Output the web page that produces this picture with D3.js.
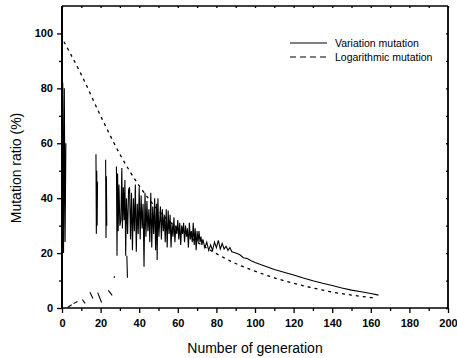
<!DOCTYPE html>
<html lang="en">
<head>
    <meta charset="utf-8">
    <title>Mutation ratio</title>
    <script src="https://d3js.org/d3.v7.min.js"></script>
    <style>
        body { margin: 0; background: #fff; }
        text { font-family: "Liberation Sans", Arial, sans-serif; fill: #000; }
    </style>
</head>
<body>
<svg width="457" height="358"></svg>
<script>
    // axis ticks
    var xTicks = [0, 20, 40, 60, 80, 100, 120, 140, 160, 180, 200];
    var xMinor = [10, 30, 50, 70, 90, 110, 130, 150, 170, 190];
    var yTicks = [0, 20, 40, 60, 80, 100];
    var yMinor = [10, 30, 50, 70, 90];

    // logarithmic mutation (dashed)
    var logGen   = [1, 10, 20, 30, 40, 50, 60, 70, 80, 90, 100, 110, 120, 130, 140, 150, 160, 162];
    var logRatio = [97, 85, 70, 56, 44.5, 35.5, 29, 24, 19.8, 16.2, 13.4, 11, 9, 7.3, 5.8, 4.7, 3.8, 3.6];

    // variation mutation (solid), null = gap where the trace is broken in the scan
    var varGen = [
        0, 0.4, 0.8, 1.2, 1.6, 2.0, null,
        3, 5, null, 6, 8, null, 10.5, 12, null, 14.5, 16, null, 18.5, 20.5, null, 24, 26, null, 27, 27.2, null,
        17.6, 17.8, 18.0, 18.2, 18.4, null,
        22.6, 22.8, 23.0, 23.2, null,
        33.6, 33.9, null,
        28.2, 28.5, 28.8, 29.1, 29.5, 30.0, 30.5, 31.0, 31.3, 31.8, 32.2, 32.6, 33.0, 33.4, 34.0, 34.5,
        35, 35.5, 36, 36.5, 37, 37.5, 38, 38.5, 39, 39.5, 40, 40.5, 41, 41.5, 42, 42.5, 43, 43.5, 44, 44.5,
        45, 45.5, 46, 46.5, 47, 47.5, 48, 48.5, 49, 49.3, 49.7, 50.2, 51, 51.5, 52, 52.5, 53, 53.5, 54, 54.5,
        55, 55.5, 56, 56.5, 57, 57.5, 58, 58.5, 59, 59.5, 60, 60.5, 61, 61.5, 62, 62.5, 63, 63.5, 64, 64.5,
        65, 65.5, 66, 66.5, 67, 67.5, 68, 68.5, 69, 69.5, 70, 70.5, 71, 71.5, 72, 72.5, 73, 74, 75, 76,
        77, 78, 79, 80, 81, 82, 83, 84, 85, 86, 87, 88, 90, 92, 94, 96, 98, 100,
        105, 110, 115, 120, 125, 130, 135, 140, 145, 150, 155, 160, 164
    ];
    var varRatio = [
        0, 82, 20, 80, 24, 60, null,
        0.3, 1.2, null, 1.6, 2.4, null, 3.1, 1.7, null, 5.7, 3.5, null, 5.6, 2, null, 6.4, 4.6, null, 11, 11.6, null,
        56, 27, 50, 30, 46, null,
        54, 25.5, 48, 30, null,
        19, 11, null,
        51.5, 19, 49, 28, 45, 30, 32, 51, 29, 44, 32, 46.6, 19, 40, 27, 43,
        44, 25, 42, 21, 40, 28, 45, 20.5, 38, 27, 44, 25, 41, 29, 38, 15, 42, 26, 39, 28,
        36, 24, 42, 22, 37, 27, 40, 21, 38, 17.5, 40, 26, 37, 25, 36, 28, 34, 24, 36, 22,
        35.5, 27, 34, 22, 31, 26, 33, 24, 30, 27, 32, 25, 31, 23, 30, 27, 31, 24, 30, 26,
        29, 22, 31, 25, 28, 24, 31, 23, 29, 21, 28, 24, 28, 24, 26, 23, 25, 22, 24, 21,
        23, 21, 24, 22, 24.6, 21.5, 23.5, 21.5, 22.5, 21, 22, 20.5, 20, 19.5, 18.3, 18, 17.2, 16.6,
        15.3, 14, 13, 12, 10.9, 9.9, 9, 8.2, 7.3, 6.5, 5.9, 5.3, 4.7
    ];

    var svg = d3.select("svg");
    var marge = {left: 62, right: 448, top: 6, bottom: 308};

    var x = d3.scaleLinear().domain([0, 200]).range([marge.left, marge.right]);
    var y = d3.scaleLinear().domain([0, 110]).range([marge.bottom, marge.top]);

    // major / minor ticks, outward on the bottom and left
    function styleAxis(g) {
        g.select(".domain").remove();
        g.selectAll(".tick line").attr("stroke", "#000").attr("stroke-width", 1.3);
        g.selectAll(".tick text").style("font-size", "11px").style("font-weight", "bold");
    }

    svg.append("g")
        .attr("transform", "translate(0," + marge.bottom + ")")
        .call(d3.axisBottom(x).tickValues(xTicks).tickSize(5).tickPadding(6).tickFormat(d3.format("d")))
        .call(styleAxis);
    svg.append("g")
        .attr("transform", "translate(0," + marge.bottom + ")")
        .call(d3.axisBottom(x).tickValues(xMinor).tickSize(3).tickFormat(""))
        .call(styleAxis);
    svg.append("g")
        .attr("transform", "translate(" + marge.left + ",0)")
        .call(d3.axisLeft(y).tickValues(yTicks).tickSize(5).tickPadding(4).tickFormat(d3.format("d")))
        .call(styleAxis);
    svg.append("g")
        .attr("transform", "translate(" + marge.left + ",0)")
        .call(d3.axisLeft(y).tickValues(yMinor).tickSize(3).tickFormat(""))
        .call(styleAxis);

    // small inward ticks on top and right
    svg.append("g")
        .attr("transform", "translate(0," + marge.top + ")")
        .call(d3.axisBottom(x).tickValues(xTicks.concat(xMinor)).tickSize(2).tickFormat(""))
        .call(styleAxis);
    svg.append("g")
        .attr("transform", "translate(" + marge.right + ",0)")
        .call(d3.axisLeft(y).tickValues(yTicks.concat(yMinor)).tickSize(2).tickFormat(""))
        .call(styleAxis);

    // frame
    svg.append("line").attr("x1", marge.left).attr("x2", marge.right).attr("y1", marge.top).attr("y2", marge.top)
        .attr("stroke", "#000").attr("stroke-width", 1.5);
    svg.append("line").attr("x1", marge.left).attr("x2", marge.right).attr("y1", marge.bottom).attr("y2", marge.bottom)
        .attr("stroke", "#000").attr("stroke-width", 1.6);
    svg.append("line").attr("x1", marge.left).attr("x2", marge.left).attr("y1", marge.top).attr("y2", marge.bottom)
        .attr("stroke", "#000").attr("stroke-width", 2);
    svg.append("line").attr("x1", marge.right).attr("x2", marge.right).attr("y1", marge.top).attr("y2", marge.bottom)
        .attr("stroke", "#000").attr("stroke-width", 1.8);

    // lines
    var line = d3.line()
        .defined(function(d) { return d[0] !== null && d[1] !== null; })
        .x(function(d) { return x(d[0]); })
        .y(function(d) { return y(d[1]); });

    var logData = logGen.map(function(g, i) { return [g, logRatio[i]]; });
    var varData = varGen.map(function(g, i) { return [g, varRatio[i]]; });

    svg.append("path")
        .datum(logData)
        .attr("d", d3.line().curve(d3.curveMonotoneX).x(function(d) { return x(d[0]); }).y(function(d) { return y(d[1]); }))
        .attr("fill", "none")
        .attr("stroke", "#000")
        .attr("stroke-width", 1.3)
        .attr("stroke-dasharray", "3,4");

    svg.append("path")
        .datum(varData)
        .attr("d", line)
        .attr("fill", "none")
        .attr("stroke", "#000")
        .attr("stroke-width", 1.1);

    // legend
    var legend = svg.append("g");
    legend.append("line").attr("x1", 290).attr("x2", 327).attr("y1", 43).attr("y2", 43)
        .attr("stroke", "#000").attr("stroke-width", 1.2);
    legend.append("text").attr("x", 335).attr("y", 47).style("font-size", "10.5px").text("Variation mutation");
    legend.append("line").attr("x1", 290).attr("x2", 327).attr("y1", 57).attr("y2", 57)
        .attr("stroke", "#000").attr("stroke-width", 1.2).attr("stroke-dasharray", "6,4");
    legend.append("text").attr("x", 335).attr("y", 61).style("font-size", "10.5px").text("Logarithmic mutation");

    // axis titles
    svg.append("text")
        .attr("x", (marge.left + marge.right) / 2)
        .attr("y", 353)
        .attr("text-anchor", "middle")
        .style("font-size", "14px")
        .text("Number of generation");
    svg.append("text")
        .attr("transform", "translate(21,168) rotate(-90)")
        .attr("text-anchor", "middle")
        .style("font-size", "14px")
        .text("Mutation ratio (%)");
</script>
</body>
</html>
